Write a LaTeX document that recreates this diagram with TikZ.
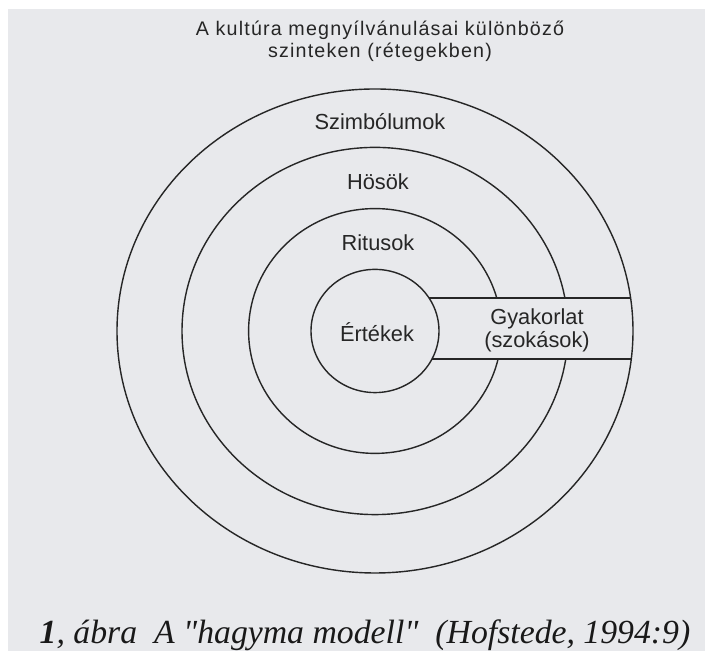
\documentclass[tikz,border=0pt]{standalone}
\usepackage{fontspec}
\setmainfont{Liberation Serif}[Ligatures=TeXOff]
\setsansfont{Liberation Sans}
\definecolor{paper}{RGB}{232,233,236}
\begin{document}
\begin{tikzpicture}[
    ring/.style={draw=black!85,line width=1pt},
    lbl/.style={font=\sffamily\fontsize{15.5}{16.5}\selectfont,text=black!85,align=center},
]
    \useasboundingbox (0,0) rectangle (17.625,16.35);
    \fill[paper] (.2,.075) rectangle (17.625,16.125);
    % the four layers
    \coordinate (c) at (9.375,8.075);
    \draw[ring] (c) ellipse (6.45 and 6.05);
    \draw[ring] (c) ellipse (4.825 and 4.59);
    \draw[ring] (c) ellipse (3.16 and 3.06);
    \draw[ring] (c) ellipse (1.6 and 1.54);
    % the band of practice cuts through
    \fill[paper] (11.1,7.4) rectangle (15.65,8.88);
    \draw[ring] (10.73,8.9) -- (15.765,8.9);
    \draw[ring] (10.8,7.375) -- (15.78,7.375);
    \node[lbl] (szimb) at (9.5,13.3) {Szimbólumok};
    \node[lbl] (hosok) at (9.45,11.8) {Hösök};
    \node[lbl] (ritus) at (9.45,10.275) {Ritusok};
    \node[lbl] (ertek) at (9.425,8.05) {Értékek};
    \node[lbl] (gyak) at (13.425,8.1) {Gyakorlat\\(szokások)};
    \node[font=\sffamily\fontsize{14}{15.6}\selectfont\addfontfeature{LetterSpace=6},text=black!85,align=center] (cim) at (9.5,15.32)
        {A kultúra megnyílvánulásai különböző\\szinteken (rétegekben)};
    \node[font=\itshape\fontsize{24}{26}\selectfont,text=black!90] (abra) at (9.125,.475)
        {\textbf{1}, ábra\ \ A "hagyma modell"\ \ (Hofstede, 1994:9)};
\end{tikzpicture}
\end{document}
